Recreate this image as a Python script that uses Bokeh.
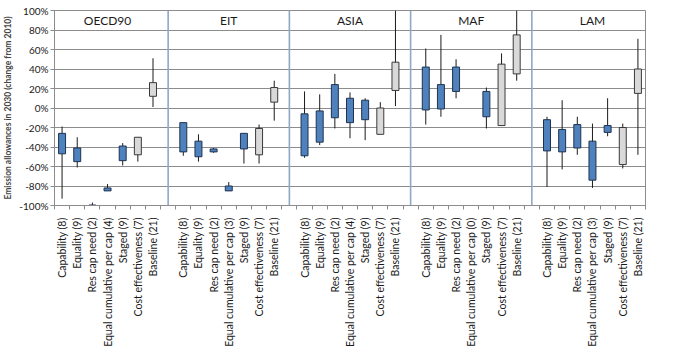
import math
from bokeh.plotting import figure
from bokeh.models import Range1d, FixedTicker, PrintfTickFormatter, ColumnDataSource
from bokeh.core.properties import value
from bokeh.embed import file_html
from bokeh.resources import INLINE

nan = float("nan")

regions = ["OECD90", "EIT", "ASIA", "MAF", "LAM"]
categories = ["Capability", "Equality", "Res cap need", "Equal cumulative per cap",
              "Staged", "Cost effectiveness", "Baseline"]
counts_oecd90 = [8, 9, 2, 4, 9, 7, 21]
counts_eit = [8, 9, 2, 3, 9, 7, 21]
counts_asia = [8, 9, 2, 4, 9, 7, 21]
counts_maf = [8, 9, 2, 0, 9, 7, 21]
counts_lam = [8, 9, 2, 3, 9, 7, 21]

# whisker low, box low, box high, whisker high (% change from 2010)
oecd90_low = [-93, -61, -100, -85, -59, -55, 1]
oecd90_q1 = [-47, -55, -100, -85, -54, -48, 12]
oecd90_q3 = [-26, -41, -99.5, -82, -39, -30, 26]
oecd90_high = [-19, -30, -97, -78, -36, -30, 51]

eit_low = [-49, -55, -46, -85, -57, -57, -13]
eit_q1 = [-45, -50, -45, -85, -42, -48, 6]
eit_q3 = [-15, -34, -42, -80, -26, -21, 21]
eit_high = [-15, -27, -41, -76, -26, -17, 28]

asia_low = [-51, -38, -21, -31, -33, -27, 2]
asia_q1 = [-49, -35, -10, -15, -12, -27, 18]
asia_q3 = [-6, -3, 24, 10, 8, 0, 47]
asia_high = [17, 14, 35, 16, 10, 6, 100]

maf_low = [-17, -9, 10, nan, -21, -18, 28]
maf_q1 = [-2, -1, 17, nan, -9, -18, 35]
maf_q3 = [42, 24, 42, nan, 17, 45, 75]
maf_high = [61, 75, 50, nan, 21, 56, 100]

lam_low = [-81, -63, -48, -82, -29, -62, -48]
lam_q1 = [-44, -45, -41, -74, -25, -58, 15]
lam_q3 = [-12, -22, -17, -34, -18, -20, 40]
lam_high = [-9, 8, -9, -16, 10, -16, 71]

y_ticks = [-100, -80, -60, -40, -20, 0, 20, 40, 60, 80, 100]

all_counts = [counts_oecd90, counts_eit, counts_asia, counts_maf, counts_lam]
all_low = [oecd90_low, eit_low, asia_low, maf_low, lam_low]
all_q1 = [oecd90_q1, eit_q1, asia_q1, maf_q1, lam_q1]
all_q3 = [oecd90_q3, eit_q3, asia_q3, maf_q3, lam_q3]
all_high = [oecd90_high, eit_high, asia_high, maf_high, lam_high]

FONT = "Lato"
BLUE = "#4F81BD"
GREY = "#D9D9D9"

slots = len(regions) * (len(categories) + 1) - 1

xs, lows, q1s, q3s, highs, fills, lines = [], [], [], [], [], [], []
overrides = {}
centers = []
for k, reg in enumerate(regions):
    for j, cat in enumerate(categories):
        x = k * (len(categories) + 1) + j + 0.5
        centers.append(x)
        overrides[x] = f"{cat} ({all_counts[k][j]})"
        lo, a, b, hi = all_low[k][j], all_q1[k][j], all_q3[k][j], all_high[k][j]
        if any(math.isnan(v) for v in (lo, a, b, hi)):
            continue
        xs.append(x); lows.append(lo); q1s.append(a); q3s.append(b); highs.append(hi)
        if j >= 5:
            fills.append(GREY); lines.append("#3A3A3A")
        else:
            fills.append(BLUE); lines.append("#1F3350")

src = ColumnDataSource(dict(x=xs, low=lows, q1=q1s, q3=q3s, high=highs, fill=fills, line=lines))

p = figure(frame_width=591, frame_height=195, output_backend="svg", toolbar_location=None,
           x_range=Range1d(0, slots), y_range=Range1d(-100, 100),
           min_border_left=40, min_border_top=10, min_border_right=20, min_border_bottom=10)
p.background_fill_color = "white"
p.outline_line_color = "#8C8C8C"
p.outline_line_width = 1

# grid
p.xgrid.grid_line_color = None
p.ygrid.grid_line_color = "#8C8C8C"
p.ygrid.grid_line_width = 1

# panel separators
sep_x = [k * (len(categories) + 1) - 0.5 for k in range(1, len(regions))]
p.segment(x0=sep_x, x1=sep_x, y0=[-100] * len(sep_x), y1=[100] * len(sep_x),
          line_color="#8FA8C6", line_width=1.6)

# whiskers and boxes
p.segment(x0="x", x1="x", y0="low", y1="high", source=src, line_color="#1A1A1A", line_width=1)
p.vbar(x="x", width=0.46, bottom="q1", top="q3", source=src,
       fill_color="fill", line_color="line", line_width=1)

# panel titles
title_x = [k * (len(categories) + 1) + 3.5 for k in range(len(regions))]
p.text(x=title_x, y=[90] * len(regions), text=regions, text_align="center",
       text_baseline="middle", text_font=value(FONT), text_font_size="12px", text_color="#1A1A1A")

# y axis
p.yaxis.ticker = FixedTicker(ticks=y_ticks)
p.yaxis.formatter = PrintfTickFormatter(format="%d%%")
p.yaxis.axis_label = "Emission allowances in 2030 (change from 2010)"
p.yaxis.axis_label_text_font = FONT
p.yaxis.axis_label_text_font_style = "bold"
p.yaxis.axis_label_text_font_size = "8.5px"
p.yaxis.axis_label_standoff = 3
p.yaxis.major_label_text_font = FONT
p.yaxis.major_label_text_font_size = "10px"
p.yaxis.major_label_text_color = "#1A1A1A"
p.yaxis.major_label_standoff = 2
p.yaxis.major_tick_in = 0
p.yaxis.major_tick_out = 4
p.yaxis.minor_tick_line_color = None
p.yaxis.axis_line_color = "#8C8C8C"
p.yaxis.major_tick_line_color = "#8C8C8C"

# x axis
p.xaxis.ticker = FixedTicker(ticks=centers, minor_ticks=list(range(slots + 1)))
p.xaxis.major_label_overrides = overrides
p.xaxis.major_label_orientation = math.pi / 2
p.xaxis.major_label_text_font = FONT
p.xaxis.major_label_text_font_size = "10.5px"
p.xaxis.major_label_text_color = "#1A1A1A"
p.xaxis.major_label_standoff = 6
p.xaxis.major_tick_line_color = None
p.xaxis.minor_tick_in = 0
p.xaxis.minor_tick_out = 4
p.xaxis.minor_tick_line_color = "#8C8C8C"
p.xaxis.axis_line_color = "#8C8C8C"

open("out.html", "w").write(file_html(p, INLINE))
